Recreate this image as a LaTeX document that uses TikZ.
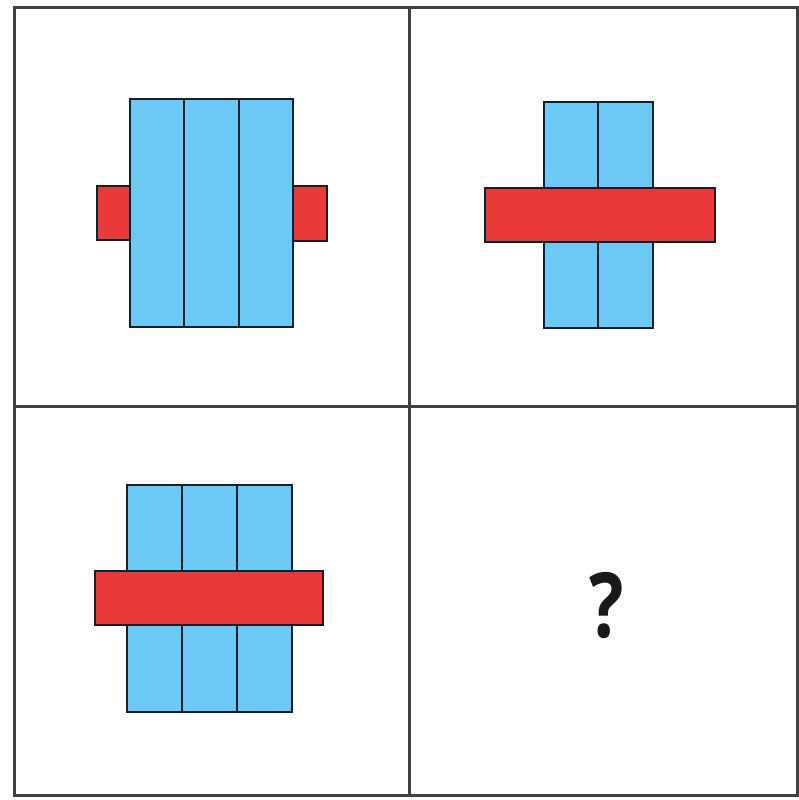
\documentclass[tikz,border=0pt]{standalone}
\usepackage{fontspec}
\setsansfont{Open Sans}
\usepackage{tikz}
\usepackage{xcolor}
\definecolor{skyblue}{RGB}{108,200,245}
\definecolor{barred}{RGB}{232,58,56}
\definecolor{edgeink}{RGB}{22,30,40}

\begin{document}
\begin{tikzpicture}[
  x=1pt, y=-1pt,
  frame/.style={draw=black!75, line width=3pt},
  bluebar/.style={fill=skyblue, draw=edgeink, line width=2.6pt},
  redbar/.style={fill=barred, draw=edgeink, line width=2.6pt},
  divider/.style={draw=edgeink, line width=2.6pt}
]
\useasboundingbox (0,0) rectangle (799,800);

% grid of four panels
\draw[frame] (14,8) rectangle (797,795);
\draw[frame] (409,8) -- (409,795);
\draw[frame] (14,406) -- (797,406);

% top left: three strips, two small tabs
\draw[redbar] (97,186) rectangle (130,240);
\draw[redbar] (293,186) rectangle (327,241);
\draw[bluebar] (130,99) rectangle (293,327);
\draw[divider] (184,99) -- (184,327);
\draw[divider] (239,99) -- (239,327);

% top right: two strips, long bar
\draw[bluebar] (544,102) rectangle (653,328);
\draw[divider] (598,102) -- (598,328);
\draw[redbar] (485,188) rectangle (715,242);

% bottom left: three strips, long bar
\draw[bluebar] (127,485) rectangle (292,712);
\draw[divider] (182,485) -- (182,712);
\draw[divider] (237,485) -- (237,712);
\draw[redbar] (95,571) rectangle (323,625);

% bottom right: the answer
\node[font=\sffamily\bfseries\fontsize{90}{90}\selectfont, text=black!90, xscale=0.8] (ask) at (607,605) {?};
\end{tikzpicture}
\end{document}
